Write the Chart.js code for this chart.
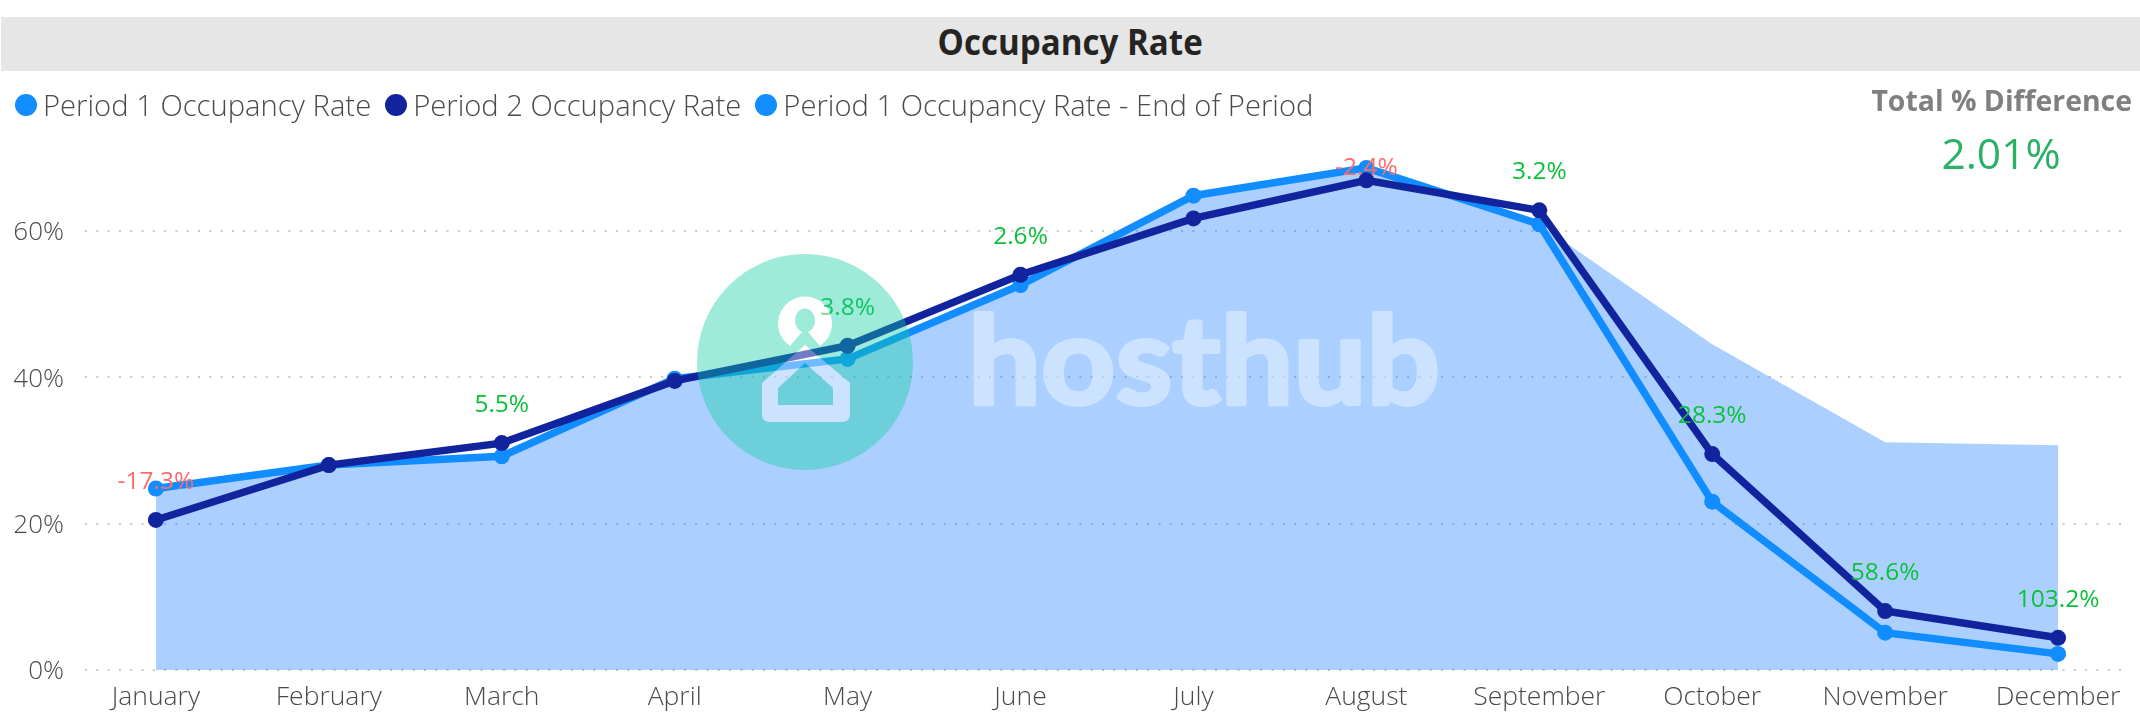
<!DOCTYPE html>
<html><head><meta charset="utf-8">
<script src="https://cdn.jsdelivr.net/npm/chart.js@4/dist/chart.umd.min.js"></script>
<style>
html,body{margin:0;padding:0;background:#fff;width:2140px;height:724px;overflow:hidden;font-family:"Open Sans",sans-serif}
#c{position:absolute;left:0;top:0}
#title{position:absolute;left:1px;right:0;top:17px;height:54px;line-height:50px;background:#e6e6e6;text-align:center;font-weight:700;color:#252423}
#title span{display:inline-block;font-size:36px;transform:scaleX(.92)}
#legend{position:absolute;left:15px;top:84px;height:42px;display:flex;align-items:center;font-size:29.2px;font-weight:300;color:#4c4a48;white-space:nowrap}
#legend span.i{display:flex;align-items:center;margin-right:14px}
#legend i{display:inline-block;width:22px;height:22px;border-radius:50%;margin-right:6px}
#kl{position:absolute;right:8px;top:81px;font-size:28.4px;font-weight:700;color:#808080;white-space:nowrap}
#kv{position:absolute;left:1901px;width:200px;text-align:center;top:124px;font-size:42.5px;font-weight:400;color:#2bb068}
#logo{position:absolute;left:0;top:0;pointer-events:none}
</style></head><body>
<canvas id="c" width="2140" height="724"></canvas>
<div id="title"><span>Occupancy Rate</span></div>
<div id="legend"></div>
<div id="kl">Total % Difference</div>
<div id="kv">2.01%</div>
<svg id="logo" width="2140" height="724" opacity="0.4">
<circle cx="805" cy="362" r="108" fill="#0fcda2"/>
<path d="M790 346 A27 27 0 1 1 820 346 L808 332 A10 12 0 1 0 802 332 Z" fill="#fff"/>
<path fill="#fff" fill-rule="evenodd" d="M805 345 L850 383 L850 414 Q850 422 842 422 L770 422 Q762 422 762 414 L762 383 Z M805 363 L778 388 L778 405 L833 405 L833 388 Z"/>
<text x="968" y="404" font-family="Lato" font-weight="700" font-size="122" fill="#fff" stroke="#fff" stroke-width="4" stroke-linejoin="round" textLength="472" lengthAdjust="spacingAndGlyphs">hosthub</text>
</svg>
<script>
const months=["January","February","March","April","May","June","July","August","September","October","November","December"];
const period1=[24.8,28.0,29.2,39.8,42.5,52.6,64.8,68.6,60.9,23.0,5.1,2.2];
const period2=[20.5,28.0,31.0,39.5,44.3,54.0,61.7,66.9,62.8,29.5,8.05,4.4];
const period1End=[24.8,28.0,29.2,39.8,42.5,52.6,64.8,68.6,60.9,44.5,31.1,30.7];
const diffLabels=["-17.3%",null,"5.5%",null,"3.8%","2.6%",null,"-2.4%","3.2%","28.3%","58.6%","103.2%"];
const seriesNames=["Period 1 Occupancy Rate","Period 2 Occupancy Rate","Period 1 Occupancy Rate - End of Period"];
const seriesColors=["#118dff","#12239e","#118dff"];
const yTicks=[0,20,40,60];
const xy=a=>a.map((v,i)=>({x:i,y:v}));
const font='"Open Sans",sans-serif';
document.getElementById('legend').innerHTML=seriesNames.map((n,i)=>`<span class="i"><i style="background:${seriesColors[i]}"></i>${n}</span>`).join('');
const labelPlugin={id:'diffLabels',afterDatasetsDraw(chart){
  const ctx=chart.ctx,pts=chart.getDatasetMeta(1).data;
  ctx.save();ctx.font='400 24.5px '+font;ctx.textAlign='center';ctx.textBaseline='middle';
  diffLabels.forEach((t,i)=>{if(!t)return;
    ctx.fillStyle=t[0]==='-'?'#fd6b6e':'#0cc03a';
    ctx.fillText(t,pts[i].x,Math.max(pts[i].y-38,168));});
  ctx.restore();}};
new Chart(document.getElementById('c'),{type:'line',
 data:{datasets:[
  {label:seriesNames[0],data:xy(period1),borderColor:seriesColors[0],backgroundColor:seriesColors[0],borderWidth:7.5,pointRadius:8,pointBackgroundColor:seriesColors[0],pointBorderWidth:0,fill:false,order:2,tension:0},
  {label:seriesNames[1],data:xy(period2),borderColor:seriesColors[1],backgroundColor:seriesColors[1],borderWidth:7.5,pointRadius:8,pointBackgroundColor:seriesColors[1],pointBorderWidth:0,fill:false,order:1,tension:0},
  {label:seriesNames[2],data:xy(period1End),borderWidth:0,pointRadius:0,showLine:true,borderColor:'rgba(0,0,0,0)',backgroundColor:'rgba(8,117,255,0.34)',fill:'origin',order:3,tension:0}
 ]},
 options:{responsive:false,animation:false,devicePixelRatio:1,
  layout:{padding:{top:143,right:15,left:0,bottom:0}},
  plugins:{legend:{display:false},title:{display:false},tooltip:{enabled:false}},
  scales:{
   x:{type:'linear',min:-0.41,max:11.387,
      afterBuildTicks(s){s.ticks=months.map((m,i)=>({value:i}));},
      afterFit(s){s.height=54;},
      grid:{display:false},border:{display:false},
      ticks:{autoSkip:false,maxRotation:0,padding:4,color:'#4c4a48',font:{family:font,size:26.5,weight:'300'},callback:v=>months[v]}},
   y:{min:0,max:72,
      afterBuildTicks(s){s.ticks=yTicks.map(v=>({value:v}));},
      afterFit(s){s.width=85;},
      grid:{color:'#c8c8c8',lineWidth:2,drawTicks:false},border:{display:false,dash:[2,9.3]},
      ticks:{padding:21,labelOffset:2,color:'#4c4a48',font:{family:font,size:26,weight:'300'},callback:v=>v+'%'}}
  }},
 plugins:[labelPlugin]});
</script>
</body></html>
